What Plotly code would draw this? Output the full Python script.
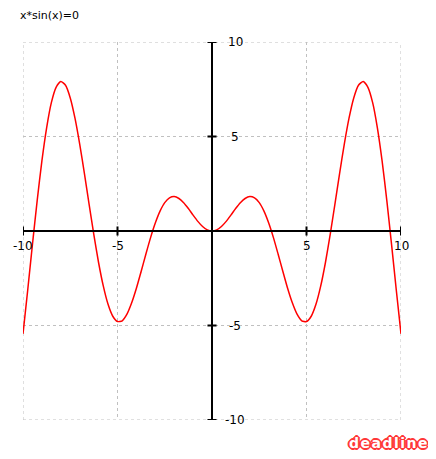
import plotly.graph_objects as go

# Curve samples (x, y)
x_vals = [-10.0, -9.75, -9.5, -9.25, -9.0, -8.75, -8.5, -8.25, -8.0, -7.75, -7.5, -7.25, -7.0, -6.75, -6.5, -6.25,
          -6.0, -5.75, -5.5, -5.25, -5.0, -4.75, -4.5, -4.25, -4.0, -3.75, -3.5, -3.25, -3.0, -2.75, -2.5, -2.25,
          -2.0, -1.75, -1.5, -1.25, -1.0, -0.75, -0.5, -0.25, 0.0, 0.25, 0.5, 0.75, 1.0, 1.25, 1.5, 1.75,
          2.0, 2.25, 2.5, 2.75, 3.0, 3.25, 3.5, 3.75, 4.0, 4.25, 4.5, 4.75, 5.0, 5.25, 5.5, 5.75,
          6.0, 6.25, 6.5, 6.75, 7.0, 7.25, 7.5, 7.75, 8.0, 8.25, 8.5, 8.75, 9.0, 9.25, 9.5, 9.75, 10.0]
y_vals = [-5.44, -3.12, -0.71, 1.61, 3.71, 5.46, 6.79, 7.60, 7.91, 7.71, 7.04, 5.97, 4.60, 3.04, 1.40, -0.21,
          -1.68, -2.92, -3.88, -4.51, -4.79, -4.75, -4.40, -3.80, -3.03, -2.14, -1.23, -0.35, 0.42, 1.05, 1.50, 1.75,
          1.82, 1.72, 1.50, 1.19, 0.84, 0.51, 0.24, 0.06, 0.0, 0.06, 0.24, 0.51, 0.84, 1.19, 1.50, 1.72,
          1.82, 1.75, 1.50, 1.05, 0.42, -0.35, -1.23, -2.14, -3.03, -3.80, -4.40, -4.75, -4.79, -4.51, -3.88, -2.92,
          -1.68, -0.21, 1.40, 3.04, 4.60, 5.97, 7.04, 7.71, 7.91, 7.60, 6.79, 5.46, 3.71, 1.61, -0.71, -3.12, -5.44]

x_ticks = [-10, -5, 5, 10]
x_tick_labels = ["-10", "-5", "5", "10"]
y_ticks = [10, 5, -5, -10]
y_tick_labels = ["10", "5", "-5", "-10"]

title_text = "x*sin(x)=0"
watermark_text = "deadline"

fig = go.Figure()
fig.add_trace(go.Scatter(x=x_vals, y=y_vals, mode="lines",
                         line=dict(color="#ff0000", width=1.5, shape="spline", smoothing=0.6),
                         hoverinfo="skip", showlegend=False))

grid_col = "#c0c0c0"
shapes = []
# dashed frame at the range edges
for v in (-10, 10):
    shapes.append(dict(type="line", xref="x", yref="y", x0=v, x1=v, y0=-10, y1=10,
                       line=dict(color=grid_col, width=1, dash="3px,3px"), layer="below"))
    shapes.append(dict(type="line", xref="x", yref="y", x0=-10, x1=10, y0=v, y1=v,
                       line=dict(color=grid_col, width=1, dash="3px,3px"), layer="below"))
# axes through origin
shapes.append(dict(type="line", xref="x", yref="y", x0=-10, x1=10, y0=0, y1=0,
                   line=dict(color="black", width=2), layer="above"))
shapes.append(dict(type="line", xref="x", yref="y", x0=0, x1=0, y0=-10, y1=10,
                   line=dict(color="black", width=2), layer="above"))
tk = 0.24
for xv in x_ticks:
    shapes.append(dict(type="line", xref="x", yref="y", x0=xv, x1=xv, y0=-tk, y1=tk,
                       line=dict(color="black", width=2), layer="above"))
for yv in y_ticks:
    shapes.append(dict(type="line", xref="x", yref="y", x0=-tk, x1=tk, y0=yv, y1=yv,
                       line=dict(color="black", width=2), layer="above"))

annotations = []
lab_font = dict(family="DejaVu Sans", size=12, color="black")
for xv, lab in zip(x_ticks, x_tick_labels):
    annotations.append(dict(x=xv, y=0, xref="x", yref="y", text=lab, showarrow=False,
                            xanchor="center", yanchor="middle", yshift=-15, font=lab_font))
for yv, lab in zip(y_ticks, y_tick_labels):
    annotations.append(dict(x=0, y=yv, xref="x", yref="y", text=lab, showarrow=False,
                            xanchor="center", yanchor="middle", xshift=23, font=lab_font))

# page has an 8px body margin; figure coordinates are page coordinates minus 8
W, H = 420, 443
ML, MR, MT, MB = 15, 27, 34, 31
plot_w = W - ML - MR
plot_h = H - MT - MB
red = "#ff3838"
wm_x, wm_y = 381, 435  # figure pixels
annotations.append(dict(x=(wm_x - ML) / plot_w, y=1 - (wm_y - MT) / plot_h, xref="paper", yref="paper",
                        text='<b><span style="letter-spacing:1.5px">' + watermark_text + "</span></b>",
                        showarrow=False, xanchor="center", yanchor="middle",
                        font=dict(family="DejaVu Sans", size=14, color="white",
                                  shadow=", ".join(f"{dx}px {dy}px 0 {red}" for dx, dy in
                                                   [(1, 0), (-1, 0), (0, 1), (0, -1), (1, 1), (-1, -1), (1, -1), (-1, 1),
                                                    (2, 0), (-2, 0), (0, 2), (0, -2)]))))

fig.update_layout(
    width=W, height=H,
    margin=dict(l=ML, r=MR, t=MT, b=MB, autoexpand=False),
    paper_bgcolor="white", plot_bgcolor="white",
    title=dict(text=title_text, x=12 / W, xanchor="left", xref="container", y=1 - 7 / H, yref="container",
               yanchor="middle", font=dict(family="DejaVu Sans", size=11, color="black")),
    xaxis=dict(range=[-10, 10], dtick=5, tick0=0, showgrid=True, gridcolor=grid_col, griddash="3px,3px",
               gridwidth=1, zeroline=False, showticklabels=False, ticks="", showline=False, fixedrange=True),
    yaxis=dict(range=[-10, 10], dtick=5, tick0=0, showgrid=True, gridcolor=grid_col, griddash="3px,3px",
               gridwidth=1, zeroline=False, showticklabels=False, ticks="", showline=False, fixedrange=True),
    shapes=shapes,
    annotations=annotations,
)

fig.write_html("out.html")
